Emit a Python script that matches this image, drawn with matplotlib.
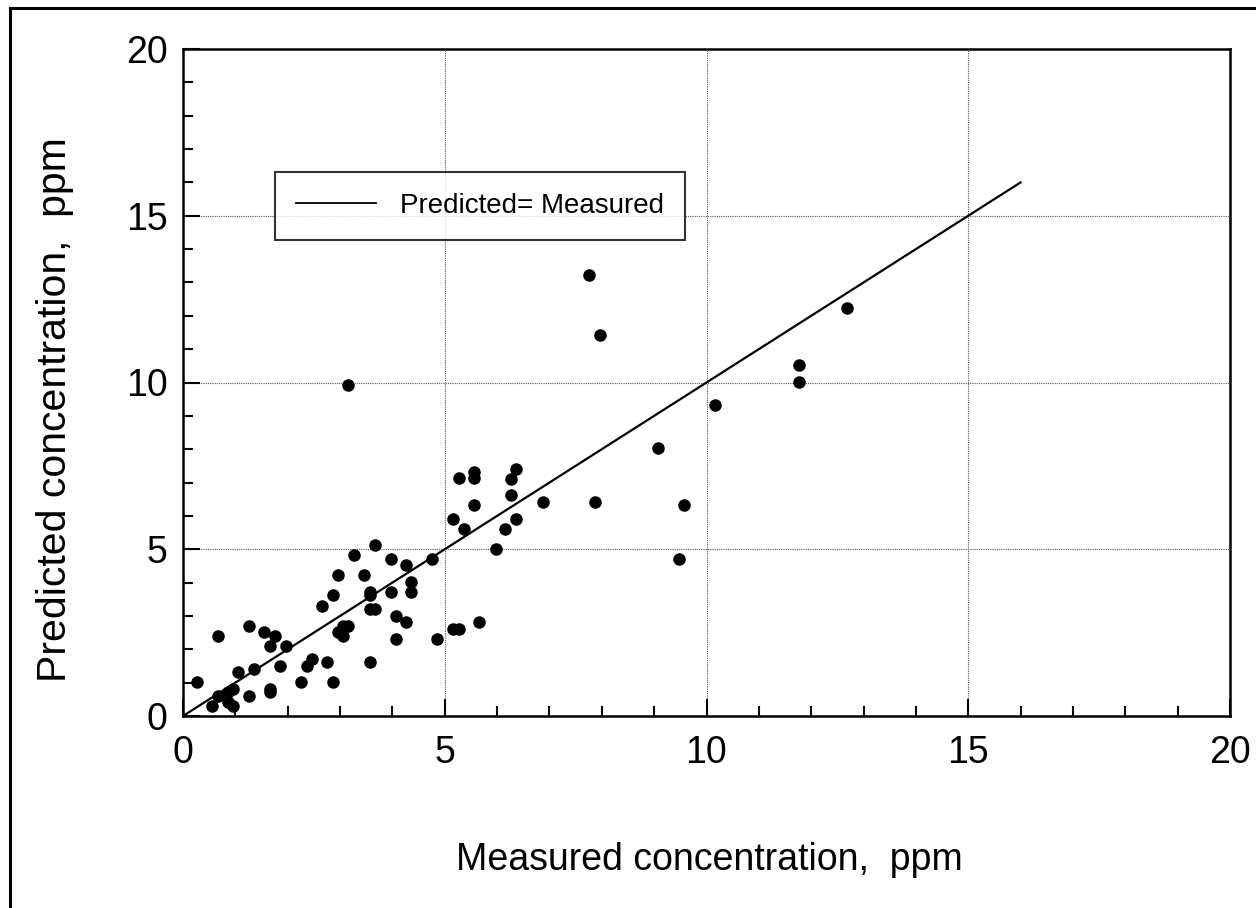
import numpy as np
import matplotlib.pyplot as plt
from matplotlib.lines import Line2D
from matplotlib.ticker import MultipleLocator

plt.rcParams['font.family'] = ['Liberation Sans', 'DejaVu Sans']

# measured vs predicted concentration (ppm)
measured = [
    3.16, 5.27, 5.56, 5.56, 5.56, 5.16, 5.36, 5.97, 3.67, 3.27,
    3.97, 4.26, 4.76, 2.97, 3.46, 4.36, 4.36, 3.97, 3.57, 3.57,
    2.86, 2.66, 3.57, 3.67, 4.07, 4.26, 5.66, 3.06, 3.16, 2.97,
    3.06, 5.16, 5.27, 4.07, 4.86, 1.26, 1.55, 1.76, 0.66, 1.66,
    1.96, 3.57, 2.76, 2.46, 2.36, 1.86, 1.36, 1.06, 0.26, 2.26,
    2.86, 1.66, 1.66, 0.96, 0.86, 0.66, 1.26, 0.56, 0.86, 0.96,
    10.17, 9.07, 6.37, 6.27, 6.27, 6.87, 7.87, 9.57, 6.37, 6.16, 9.47,
    7.76, 7.97, 12.68, 11.77, 11.77,
]
predicted = [
    9.93, 7.13, 7.33, 7.13, 6.33, 5.91, 5.61, 5.01, 5.13, 4.82,
    4.72, 4.52, 4.72, 4.22, 4.22, 4.02, 3.72, 3.72, 3.72, 3.62,
    3.62, 3.31, 3.22, 3.22, 3.01, 2.81, 2.81, 2.71, 2.71, 2.51,
    2.41, 2.62, 2.62, 2.31, 2.31, 2.71, 2.51, 2.41, 2.41, 2.11,
    2.11, 1.61, 1.61, 1.71, 1.51, 1.51, 1.41, 1.31, 1.01, 1.01,
    1.01, 0.81, 0.71, 0.81, 0.71, 0.61, 0.61, 0.31, 0.41, 0.31,
    9.33, 8.03, 7.42, 7.12, 6.62, 6.42, 6.42, 6.32, 5.92, 5.62, 4.72,
    13.22, 11.41, 12.22, 10.52, 10.02,
]

# 1:1 reference line
line_x = [0, 16]
line_y = [0, 16]

fig = plt.figure(figsize=(12.56, 9.08), dpi=100)
ax = fig.add_axes([183 / 1256, 1 - 716 / 908, 1047 / 1256, 667 / 908])

ax.plot(line_x, line_y, color='black', lw=1.6, label='Predicted= Measured')
ax.plot(measured, predicted, 'o', color='black', ms=8, ls='none')

ax.set_xlim(0, 20)
ax.set_ylim(0, 20)
ax.xaxis.set_major_locator(MultipleLocator(5))
ax.yaxis.set_major_locator(MultipleLocator(5))
ax.xaxis.set_minor_locator(MultipleLocator(1))
ax.yaxis.set_minor_locator(MultipleLocator(1))
ax.tick_params(which='both', direction='in', width=1.5, labelsize=27)
ax.tick_params(which='major', length=12)
ax.tick_params(which='minor', length=7)
ax.tick_params(axis='x', which='major', pad=14)
ax.tick_params(axis='y', which='major', pad=11)
ax.grid(True, which='major', color='0.35', lw=0.8, ls=(0, (1, 1)))
for s in ax.spines.values():
    s.set_linewidth(1.8)

ax.set_xlabel('Measured concentration,  ppm', fontsize=27)
ax.set_ylabel('Predicted concentration,  ppm', fontsize=29.5)
ax.xaxis.set_label_coords(0.503, -0.216)
ax.xaxis.label.set_va('center')
ax.yaxis.set_label_coords(-0.122, 0.459)
ax.yaxis.label.set_va('center')

leg = ax.legend(loc='center', bbox_to_anchor=(0.2835, 0.765), fontsize=20,
                frameon=True, fancybox=False, borderpad=0.75,
                handlelength=2.9, handletextpad=0.85, borderaxespad=0)
leg.get_frame().set_edgecolor('black')
leg.get_frame().set_linewidth(1.5)
leg.get_lines()[0].set_linewidth(1.3)

# outer frame (left and top edges visible)
x0, y0 = 10 / 1256, 1 - 8 / 908
fig.add_artist(Line2D([x0, x0], [0, y0], color='black', lw=2.2))
fig.add_artist(Line2D([x0, 1], [y0, y0], color='black', lw=2.2))

fig.savefig('out.png', dpi=100)
